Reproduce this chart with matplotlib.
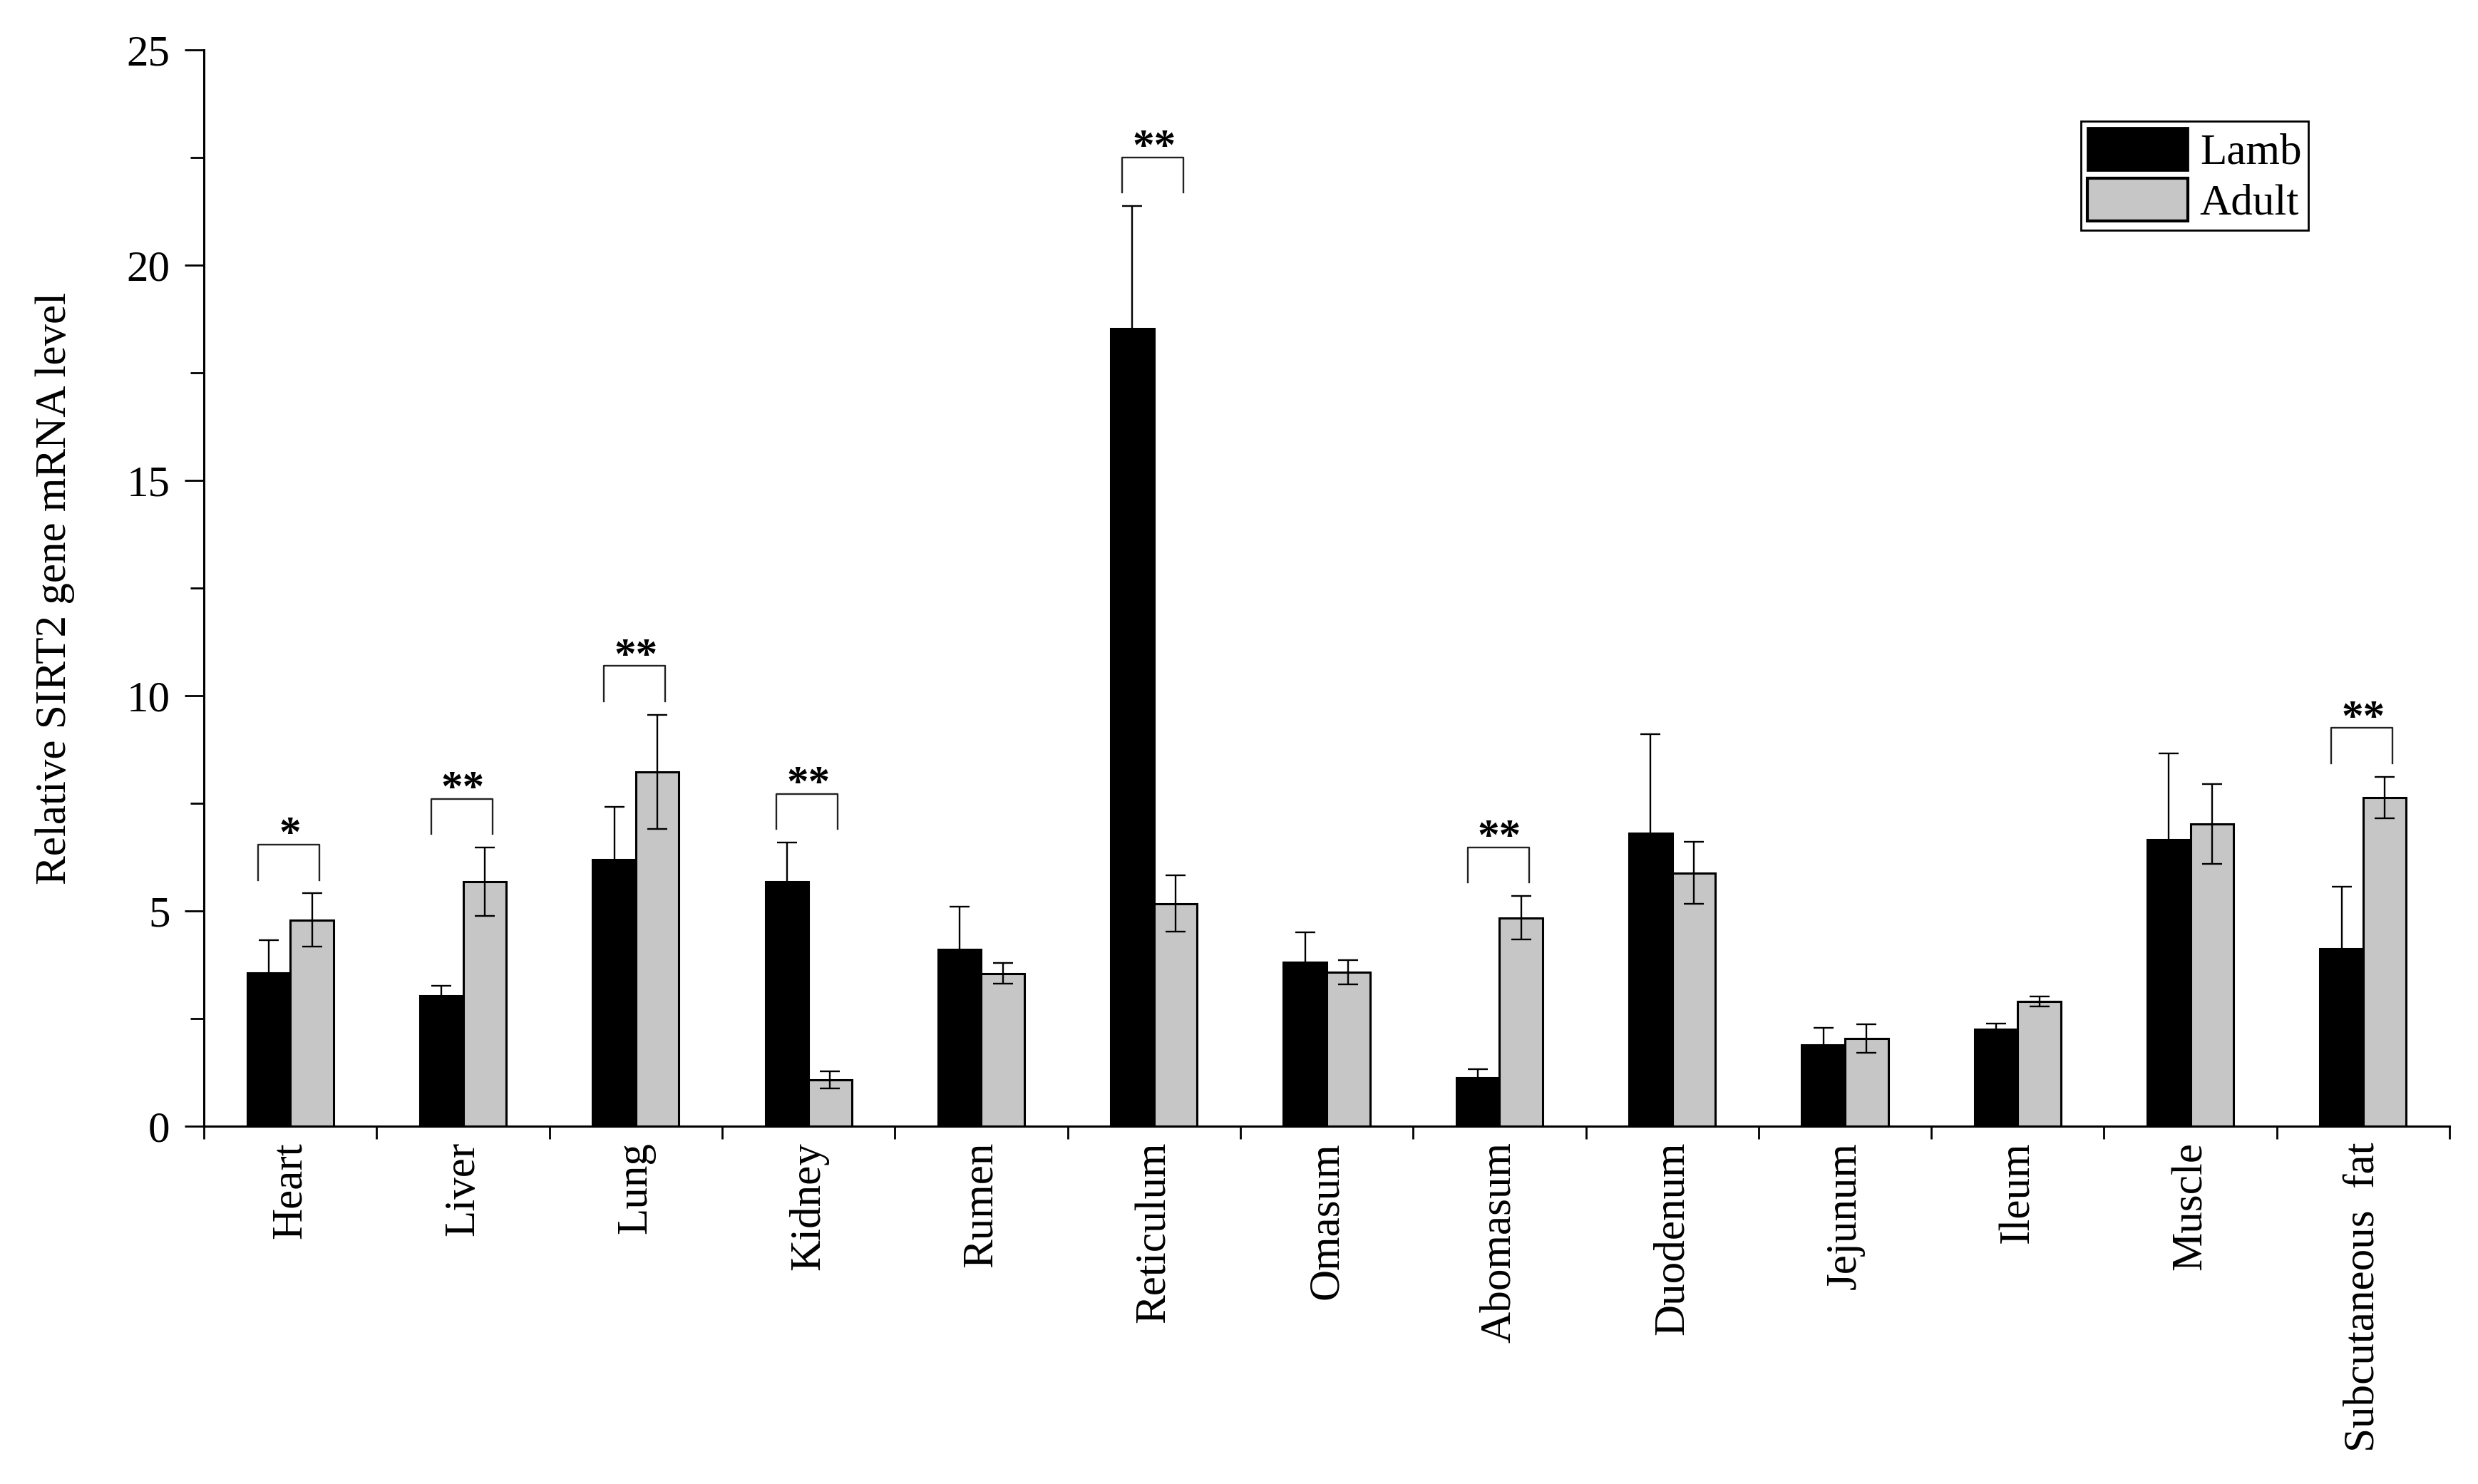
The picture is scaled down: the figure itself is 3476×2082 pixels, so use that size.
import numpy as np
import matplotlib.pyplot as plt
from matplotlib.patches import Patch
from matplotlib.ticker import MultipleLocator

plt.rcParams['font.family'] = ['Liberation Serif', 'DejaVu Serif']

categories = ['Heart', 'Liver', 'Lung', 'Kidney', 'Rumen', 'Reticulum', 'Omasum',
              'Abomasum', 'Duodenum', 'Jejunum', 'Ileum', 'Muscle', 'Subcutaneous  fat']
lamb = [3.56, 3.03, 6.19, 5.68, 4.11, 18.53, 3.81, 1.13, 6.80, 1.88, 2.25, 6.65, 4.12]
lamb_err = [0.76, 0.23, 1.22, 0.91, 0.99, 2.84, 0.70, 0.20, 2.31, 0.41, 0.14, 2.01, 1.45]
adult = [4.79, 5.68, 8.23, 1.08, 3.55, 5.17, 3.58, 4.84, 5.88, 2.04, 2.90, 7.02, 7.64]
adult_err = [0.62, 0.79, 1.33, 0.20, 0.24, 0.65, 0.28, 0.51, 0.72, 0.33, 0.11, 0.92, 0.48]
signif = ['*', '**', '**', '**', '', '**', '', '**', '', '', '', '', '**']

grey = '#c6c6c6'
fs = 22

fig = plt.figure(figsize=(17.38, 10.41), dpi=200)
ax = fig.add_axes([0.0823, 0.2411, 0.9062, 0.7253])

x = np.arange(len(categories)) + 0.5
w = 0.25

ax.bar(x - w/2, lamb, w, color='black', edgecolor='black', linewidth=1.1, zorder=2)
ax.bar(x + w/2, adult, w, color=grey, edgecolor='black', linewidth=1.1, zorder=2)

eb = dict(fmt='none', ecolor='black', elinewidth=0.85, capsize=5.2, capthick=0.85, zorder=3)
ax.errorbar(x - w/2, lamb, yerr=lamb_err, **eb)
ax.errorbar(x + w/2, adult, yerr=adult_err, **eb)

# significance brackets
for i, s in enumerate(signif):
    if not s:
        continue
    top = max(lamb[i] + lamb_err[i], adult[i] + adult_err[i]) + 1.13
    x0, x1 = x[i] - 0.185, x[i] + 0.17
    ax.plot([x0, x0, x1, x1], [top - 0.82, top, top, top - 0.82],
            color='#222222', linewidth=0.85, zorder=3)
    ax.text(x[i], top - 0.04, s, ha='center', va='baseline', fontsize=fs,
            fontweight='bold')

ax.set_xlim(0, len(categories))
ax.set_ylim(0, 25)

ax.spines['top'].set_visible(False)
ax.spines['right'].set_visible(False)
ax.spines['left'].set_linewidth(1.1)
ax.spines['bottom'].set_linewidth(1.1)

ax.yaxis.set_major_locator(MultipleLocator(5))
ax.yaxis.set_minor_locator(MultipleLocator(2.5))
ax.tick_params(axis='y', which='major', length=9.7, width=1.0, pad=7.4, labelsize=fs)
ax.tick_params(axis='y', which='minor', length=6.8, width=1.0)

ax.set_xticks(np.arange(len(categories) + 1))
ax.set_xticklabels([])
ax.set_xticks(x, minor=True)
ax.set_xticklabels(categories, minor=True, rotation=90, fontsize=fs)
ax.tick_params(axis='x', which='major', length=6.5, width=1.0)
ax.tick_params(axis='x', which='minor', length=0, pad=7.9)

fig.text(77/3476, 1 - 825/2082, 'Relative SIRT2 gene mRNA level', rotation=90,
         ha='center', va='center', fontsize=fs)

handles = [Patch(facecolor='black', edgecolor='black', linewidth=1.0),
           Patch(facecolor=grey, edgecolor='black', linewidth=1.5)]
leg = ax.legend(handles, ['Lamb', 'Adult'], loc='upper right', bbox_to_anchor=(0.937, 0.934),
                borderaxespad=0, fontsize=fs, fancybox=False, framealpha=1,
                edgecolor='black', handlelength=2.3, handleheight=1.15,
                labelspacing=0.11, borderpad=0.15, handletextpad=0.28)
leg.get_frame().set_linewidth(1.0)

fig.savefig('out.png', dpi=200)
